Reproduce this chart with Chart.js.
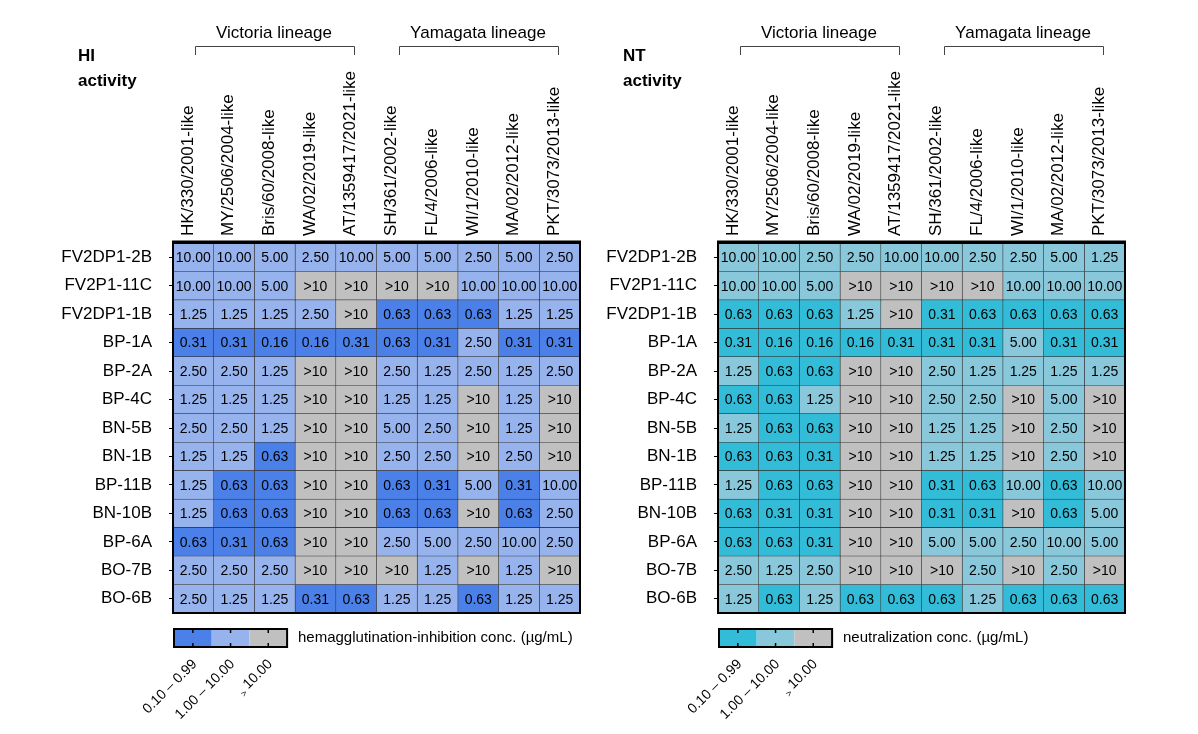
<!DOCTYPE html>
<html lang="en">
<head>
<meta charset="UTF-8">
<title>HI and NT activity</title>
<script src="https://cdn.jsdelivr.net/npm/chart.js"></script>
<style>
    body { margin: 0; background: #fff; }
    .panel { position: absolute; top: 0; width: 600px; height: 734px; }
    #hiPanel { left: 0; }
    #ntPanel { left: 545px; }
</style>
</head>
<body>
<div class="panel" id="hiPanel"><canvas id="hiChart"></canvas></div>
<div class="panel" id="ntPanel"><canvas id="ntChart"></canvas></div>
<script>
const antibodies = ['FV2DP1-2B', 'FV2P1-11C', 'FV2DP1-1B', 'BP-1A', 'BP-2A', 'BP-4C', 'BN-5B',
    'BN-1B', 'BP-11B', 'BN-10B', 'BP-6A', 'BO-7B', 'BO-6B'];
const strains = ['HK/330/2001-like', 'MY/2506/2004-like', 'Bris/60/2008-like', 'WA/02/2019-like',
    'AT/1359417/2021-like', 'SH/361/2002-like', 'FL/4/2006-like', 'WI/1/2010-like',
    'MA/02/2012-like', 'PKT/3073/2013-like'];
const lineages = [
    { name: 'Victoria lineage', from: 0, to: 4 },
    { name: 'Yamagata lineage', from: 5, to: 9 }
];
const legendRanges = ['0.10 \u2013 0.99', '1.00 \u2013 10.00', '> 10.00'];

// HI activity, ug/mL (rows = antibodies, cols = strains)
const hiValues = [
    ['10.00', '10.00', '5.00', '2.50', '10.00', '5.00', '5.00', '2.50', '5.00', '2.50'],
    ['10.00', '10.00', '5.00', '>10', '>10', '>10', '>10', '10.00', '10.00', '10.00'],
    ['1.25', '1.25', '1.25', '2.50', '>10', '0.63', '0.63', '0.63', '1.25', '1.25'],
    ['0.31', '0.31', '0.16', '0.16', '0.31', '0.63', '0.31', '2.50', '0.31', '0.31'],
    ['2.50', '2.50', '1.25', '>10', '>10', '2.50', '1.25', '2.50', '1.25', '2.50'],
    ['1.25', '1.25', '1.25', '>10', '>10', '1.25', '1.25', '>10', '1.25', '>10'],
    ['2.50', '2.50', '1.25', '>10', '>10', '5.00', '2.50', '>10', '1.25', '>10'],
    ['1.25', '1.25', '0.63', '>10', '>10', '2.50', '2.50', '>10', '2.50', '>10'],
    ['1.25', '0.63', '0.63', '>10', '>10', '0.63', '0.31', '5.00', '0.31', '10.00'],
    ['1.25', '0.63', '0.63', '>10', '>10', '0.63', '0.63', '>10', '0.63', '2.50'],
    ['0.63', '0.31', '0.63', '>10', '>10', '2.50', '5.00', '2.50', '10.00', '2.50'],
    ['2.50', '2.50', '2.50', '>10', '>10', '>10', '1.25', '>10', '1.25', '>10'],
    ['2.50', '1.25', '1.25', '0.31', '0.63', '1.25', '1.25', '0.63', '1.25', '1.25']
];

// NT activity, ug/mL
const ntValues = [
    ['10.00', '10.00', '2.50', '2.50', '10.00', '10.00', '2.50', '2.50', '5.00', '1.25'],
    ['10.00', '10.00', '5.00', '>10', '>10', '>10', '>10', '10.00', '10.00', '10.00'],
    ['0.63', '0.63', '0.63', '1.25', '>10', '0.31', '0.63', '0.63', '0.63', '0.63'],
    ['0.31', '0.16', '0.16', '0.16', '0.31', '0.31', '0.31', '5.00', '0.31', '0.31'],
    ['1.25', '0.63', '0.63', '>10', '>10', '2.50', '1.25', '1.25', '1.25', '1.25'],
    ['0.63', '0.63', '1.25', '>10', '>10', '2.50', '2.50', '>10', '5.00', '>10'],
    ['1.25', '0.63', '0.63', '>10', '>10', '1.25', '1.25', '>10', '2.50', '>10'],
    ['0.63', '0.63', '0.31', '>10', '>10', '1.25', '1.25', '>10', '2.50', '>10'],
    ['1.25', '0.63', '0.63', '>10', '>10', '0.31', '0.63', '10.00', '0.63', '10.00'],
    ['0.63', '0.31', '0.31', '>10', '>10', '0.31', '0.31', '>10', '0.63', '5.00'],
    ['0.63', '0.63', '0.31', '>10', '>10', '5.00', '5.00', '2.50', '10.00', '5.00'],
    ['2.50', '1.25', '2.50', '>10', '>10', '>10', '2.50', '>10', '2.50', '>10'],
    ['1.25', '0.63', '1.25', '0.63', '0.63', '0.63', '1.25', '0.63', '0.63', '0.63']
];

const hiPalette = ['#4a80e8', '#97b3ee', '#c0c0c0'];
const ntPalette = ['#33bcd8', '#88c8da', '#c0c0c0'];

const font = "'Liberation Sans', Arial, sans-serif";
Chart.defaults.font.family = font;
Chart.defaults.color = '#000';

function cellColor(text, palette) {
    if (text.startsWith('>')) return palette[2];
    return parseFloat(text) < 1 ? palette[0] : palette[1];
}

// writes the value inside each cell
const cellText = {
    id: 'cellText',
    afterDatasetsDraw(chart) {
        const ctx = chart.ctx;
        ctx.save();
        ctx.font = '14px ' + font;
        ctx.fillStyle = '#000';
        ctx.textAlign = 'center';
        ctx.textBaseline = 'middle';
        chart.data.datasets.forEach((ds, j) => {
            chart.getDatasetMeta(j).data.forEach((bar, i) => {
                const p = bar.getCenterPoint();
                ctx.fillText(ds.cellText[i], p.x, p.y + 1);
            });
        });
        ctx.restore();
    }
};

// frame, title, lineage brackets and colour key
const decor = {
    id: 'decor',
    afterDraw(chart, args, opts) {
        const ctx = chart.ctx;
        const a = chart.chartArea;
        const top = chart.scales.xTop;
        ctx.save();

        ctx.strokeStyle = '#000';
        ctx.lineWidth = 2;
        ctx.strokeRect(a.left, a.top, a.right - a.left, a.bottom - a.top);
        ctx.lineWidth = 3;
        ctx.beginPath();
        ctx.moveTo(a.left - 1, a.top - 1);
        ctx.lineTo(a.right + 1, a.top - 1);
        ctx.stroke();

        ctx.fillStyle = '#000';
        ctx.font = 'bold 17px ' + font;
        ctx.textAlign = 'left';
        ctx.textBaseline = 'middle';
        opts.title.forEach((line, k) => ctx.fillText(line, 78, 56 + k * 25));

        ctx.font = '17px ' + font;
        ctx.textAlign = 'center';
        ctx.strokeStyle = '#444';
        ctx.lineWidth = 1;
        lineages.forEach(l => {
            const x1 = Math.round(top.getPixelForTick(l.from)) + 2.5;
            const x2 = Math.round(top.getPixelForTick(l.to)) - 1.5;
            ctx.beginPath();
            ctx.moveTo(x1, 55);
            ctx.lineTo(x1, 46.5);
            ctx.lineTo(x2, 46.5);
            ctx.lineTo(x2, 55);
            ctx.stroke();
            ctx.fillText(l.name, (x1 + x2) / 2 - 1, 33);
        });

        // colour key
        const lx = a.left + 1, ly = a.bottom + 16, segW = 37.7, h = 18;
        opts.palette.forEach((c, k) => {
            ctx.fillStyle = c;
            ctx.fillRect(lx + k * segW, ly, segW, h);
        });
        ctx.strokeStyle = '#000';
        ctx.lineWidth = 2;
        ctx.strokeRect(lx, ly, segW * 3, h);
        ctx.lineWidth = 1.5;
        for (let k = 0; k < 3; k++) {
            const cx = lx + (k + 0.5) * segW;
            ctx.beginPath();
            ctx.moveTo(cx, ly); ctx.lineTo(cx, ly + 4);
            ctx.moveTo(cx, ly + h - 4); ctx.lineTo(cx, ly + h);
            ctx.stroke();
        }
        ctx.fillStyle = '#000';
        ctx.font = '15px ' + font;
        ctx.textAlign = 'left';
        ctx.fillText(opts.legendLabel, lx + 124, ly + h / 2);

        ctx.font = '14px ' + font;
        legendRanges.forEach((t, k) => {
            ctx.save();
            ctx.translate(lx + (k + 0.5) * segW + 2, ly + h + 15);
            ctx.rotate(-Math.PI / 4);
            ctx.textAlign = 'right';
            if (t.startsWith('> ')) {
                const rest = t.slice(2);
                ctx.fillText(rest, 0, 0);
                const w = ctx.measureText(rest).width;
                ctx.font = '9px ' + font;
                ctx.fillText('>', -w - 3, 4);
            } else {
                ctx.fillText(t, 0, 0);
            }
            ctx.restore();
        });
        ctx.restore();
    }
};

function makeHeatmap(canvasId, values, palette, title, legendLabel) {
    const datasets = strains.map((strain, j) => ({
        label: strain,
        data: antibodies.map(() => [j, j + 1]),
        cellText: antibodies.map((ab, i) => values[i][j]),
        backgroundColor: antibodies.map((ab, i) => cellColor(values[i][j], palette)),
        borderColor: '#333',
        borderWidth: 0.6,
        borderSkipped: false,
        barPercentage: 1,
        categoryPercentage: 1,
        grouped: false
    }));

    return new Chart(document.getElementById(canvasId), {
        type: 'bar',
        data: { labels: antibodies, datasets: datasets },
        options: {
            indexAxis: 'y',
            responsive: true,
            maintainAspectRatio: false,
            animation: false,
            layout: { padding: { left: 0, top: 0, right: 20, bottom: 121 } },
            scales: {
                x: { type: 'linear', min: 0, max: strains.length, display: false },
                xTop: {
                    type: 'category',
                    axis: 'x',
                    position: 'top',
                    labels: strains,
                    offset: true,
                    grid: { display: false, drawTicks: false },
                    border: { display: false },
                    ticks: {
                        autoSkip: false, minRotation: 90, maxRotation: 90, padding: 7,
                        labelOffset: 15, font: { size: 17 }, color: '#000'
                    },
                    afterFit: s => { s.height = 243; }
                },
                y: {
                    type: 'category',
                    offset: true,
                    grid: { display: true, drawOnChartArea: false, drawTicks: true, tickLength: 4, offset: false, color: '#000' },
                    border: { display: false },
                    ticks: { padding: 17, font: { size: 17 }, color: '#000' },
                    afterFit: s => { s.width = 173; }
                }
            },
            plugins: {
                legend: { display: false },
                tooltip: { enabled: false },
                decor: { title: title, legendLabel: legendLabel, palette: palette }
            }
        },
        plugins: [cellText, decor]
    });
}

makeHeatmap('hiChart', hiValues, hiPalette, ['HI', 'activity'], 'hemagglutination-inhibition conc. (\u00b5g/mL)');
makeHeatmap('ntChart', ntValues, ntPalette, ['NT', 'activity'], 'neutralization conc. (\u00b5g/mL)');
</script>
</body>
</html>
